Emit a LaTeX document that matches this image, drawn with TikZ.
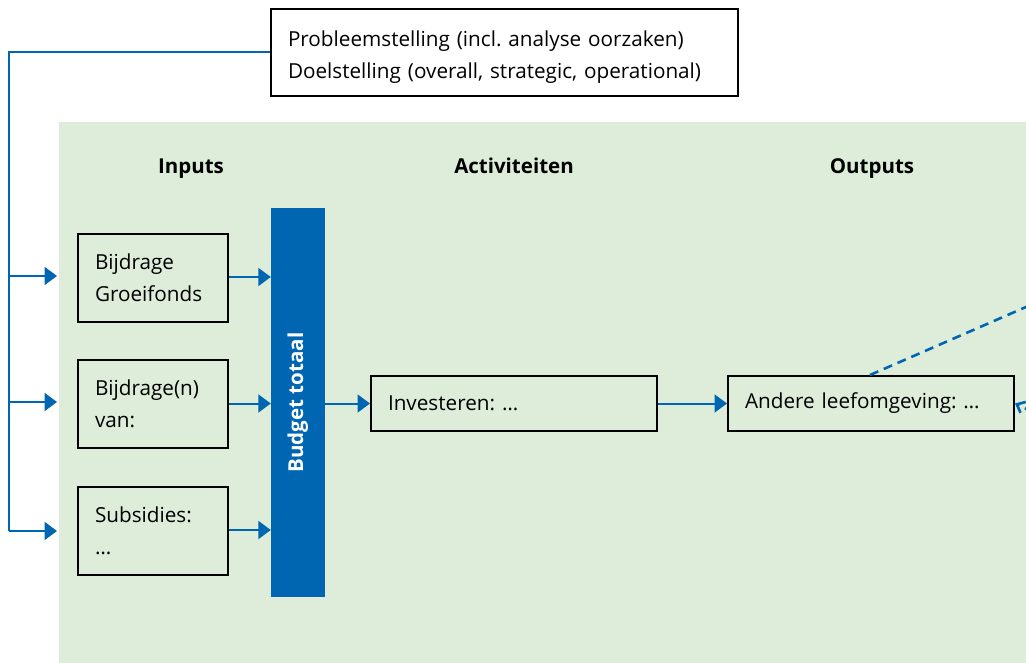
\documentclass[tikz,border=0pt]{standalone}
\usepackage{fontspec}
\setmainfont{Open Sans}
\usetikzlibrary{arrows.meta}
\definecolor{rblue}{RGB}{0,102,178}
\definecolor{pale}{RGB}{221,237,218}
\frenchspacing
\begin{document}
\begin{tikzpicture}[x=1pt,y=-1pt,
  font=\fontsize{20.7}{32}\selectfont,
  box/.style={draw=black, line width=2pt, inner xsep=17pt, inner ysep=0pt,
    align=left, anchor=center},
  inbox/.style={box, minimum width=150pt, minimum height=88pt, text width=116pt},
  widebox/.style={box, minimum width=286pt, minimum height=55pt, text width=252pt},
  head/.style={font=\fontsize{20.5}{24}\selectfont\bfseries, text height=15pt, text depth=5pt},
  flow/.style={draw=rblue, line width=2pt},
  arrow/.style={flow, -{Triangle[length=12.5pt,width=18pt]}},
  dashflow/.style={draw=rblue, line width=2.6pt, dash pattern=on 9pt off 6pt}
]
\useasboundingbox (0,0) rectangle (1026,663);
\clip (0,0) rectangle (1026,663);

% background panel
\fill[pale] (59,122) rectangle (1100,700);

% problem statement and goals
\node[box, minimum width=467pt, minimum height=87pt, text width=433pt]
  (goal) at (504.5,52.5) {\rule{0pt}{25pt}Probleemstelling (incl. analyse oorzaken)\\Doelstelling (overall, strategic, operational)};

% column headings
\node[head] (hin)  at (191,169) {Inputs};
\node[head] (hact) at (514,169) {Activiteiten};
\node[head] (hout) at (872,169) {Outputs};

% inputs
\node[inbox] (in1) at (153,278) {Bijdrage\\Groeifonds};
\node[inbox] (in2) at (153,403.5) {Bijdrage(n)\\van:};
\node[inbox] (in3) at (153,530.5) {Subsidies:\\…};

% total budget bar
\node[fill=rblue, minimum width=54pt, minimum height=389pt, inner sep=0pt]
  (bar) at (298,402.5) {};
\node[rotate=90, text=white, head] (bartxt) at (bar.center) {Budget totaal};

% activities and outputs
\node[widebox] (inv) at (514,403.5) {Investeren: …};
\node[widebox] (out) at (871,403.5) {Andere leefomgeving: …};

% feed from the goals box into each input
\coordinate (spine) at (9,0);
\coordinate (a1) at (57,276);
\coordinate (a2) at (57,402);
\coordinate (a3) at (57,531);
\draw[flow] (goal.west) -| (spine |- a3);
\draw[arrow] (spine |- a1) -- (a1);
\draw[arrow] (spine |- a2) -- (a2);
\draw[arrow] (spine |- a3) -- (a3);

% inputs into the budget
\draw[arrow] (in1.east |- 0,277) -- (bar.west |- 0,277);
\draw[arrow] (in2.east) -- (bar.west |- in2.east);
\draw[arrow] (in3.east |- 0,530) -- (bar.west |- 0,530);

% budget to activities to outputs
\draw[arrow] (bar.east |- inv.west) -- (inv.west);
\draw[arrow] (inv.east) -- (out.west);

% links leaving to the right
\coordinate (far1) at (1104,273);
\coordinate (far2) at (1060,425);
\draw[dashflow] (870,375) -- (far1);
\draw[dashflow, -{Straight Barb[length=7pt,width=12pt]}] (far2) -- (out.east);
\end{tikzpicture}
\end{document}
